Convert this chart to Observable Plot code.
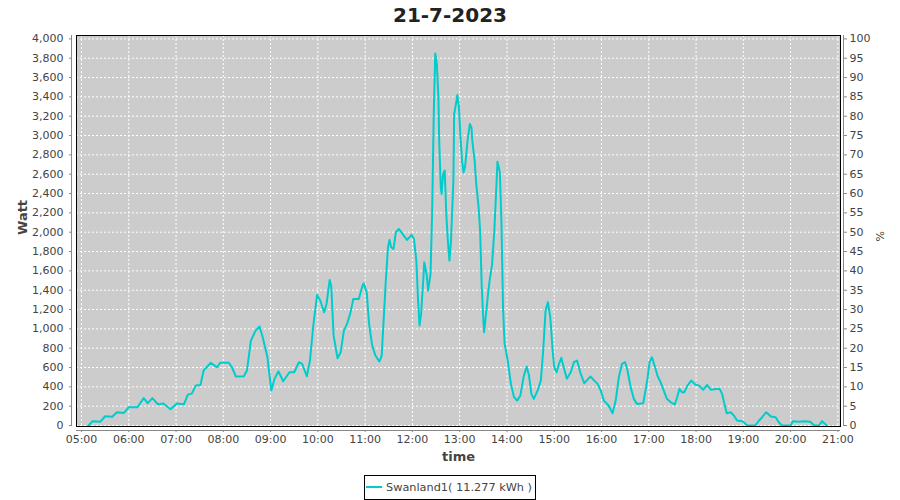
<!DOCTYPE html>
<html><head><meta charset="utf-8">
<script src="https://cdn.jsdelivr.net/npm/d3@7"></script>
<script src="https://cdn.jsdelivr.net/npm/@observablehq/plot@0.6"></script>
<style>
body{margin:0;background:#fff;font-family:"DejaVu Sans",sans-serif;}
#wrap{width:900px;height:500px;position:relative;overflow:hidden;background:#fff}
#title{height:30px;line-height:30px;text-align:center;font-weight:bold;font-size:20px;color:#222;}
#chart svg{display:block}
#legendRow{text-align:center;height:25px}
#legend{display:inline-block;border:1px solid #000;height:23px;line-height:23px;padding:0 3px 0 1px;font-size:11.3px;color:#444;white-space:nowrap}
#legend .sw{display:inline-block;width:16px;height:2px;background:#00CCCC;vertical-align:middle;margin-right:4px;position:relative;top:-1px}
</style></head><body>
<div id="wrap">
<div id="title">21-7-2023</div>
<div id="chart"></div>
<div id="legendRow"><div id="legend"><span class="sw"></span>Swanland1( 11.277 kWh )</div></div>
</div>
<script>
const times = ["05:09","05:14","05:24","05:30","05:39","05:45","05:54",
"06:00","06:11","06:19","06:24","06:30","06:37","06:44","06:53",
"07:01","07:10","07:15","07:20","07:25","07:31","07:35","07:44","07:52","07:56",
"08:07","08:11","08:16","08:26","08:30","08:35","08:41","08:46","08:50","08:56",
"09:01","09:05","09:10","09:16","09:24","09:30","09:36","09:40","09:46","09:50","09:54","09:59",
"10:03","10:08","10:11","10:15","10:17","10:20","10:25","10:29","10:33","10:37","10:41","10:45","10:52","10:56","10:58",
"11:02","11:05","11:09","11:13","11:18","11:21","11:23","11:26","11:29","11:31","11:33","11:36","11:39","11:43","11:53","11:59",
"12:02","12:05","12:07","12:09","12:11","12:14","12:15","12:18","12:20","12:23","12:25","12:26","12:27","12:29","12:31","12:33","12:34","12:36","12:37","12:39","12:41","12:43","12:45","12:47","12:49","12:52","12:53","12:56","12:57","12:59",
"13:01","13:03","13:05","13:07","13:10","13:12","13:13","13:15","13:16","13:19","13:21","13:24","13:26","13:28","13:30","13:31","13:34","13:36","13:38","13:41","13:44","13:47","13:48","13:51","13:53","13:55","13:57",
"14:01","14:05","14:09","14:13","14:17","14:21","14:25","14:28","14:31","14:34","14:39","14:43","14:46","14:49","14:52","14:55","14:58",
"15:00","15:03","15:06","15:09","15:12","15:16","15:21","15:25","15:29","15:33","15:38","15:42","15:46","15:50","15:55","15:59",
"16:03","16:09","16:14","16:18","16:22","16:26","16:30","16:33","16:37","16:41","16:45","16:53","16:58",
"17:01","17:04","17:08","17:11","17:15","17:19","17:23","17:28","17:33","17:36","17:39","17:42","17:45","17:49","17:54","17:59",
"18:04","18:09","18:14","18:19","18:25","18:30","18:33","18:36","18:39","18:44","18:48","18:52","18:59",
"19:05","19:15","19:20","19:24","19:29","19:35","19:41","19:45","19:49",
"20:00","20:03","20:10","20:18","20:25","20:30","20:36","20:40","20:43","20:46"];
const watts = [0,45,40,96,90,138,130,
190,190,283,231,283,220,228,169,
228,220,320,330,413,420,569,648,603,650,
650,603,507,510,569,879,982,1024,913,706,
362,483,561,458,551,551,655,638,510,672,1017,1351,
1293,1172,1258,1506,1440,930,696,758,982,1051,1155,1310,1310,1430,1471,
1378,1051,827,724,662,720,1017,1465,1844,1920,1844,1827,1999,2033,1920,1972,
1930,1706,1327,1034,1155,1534,1689,1568,1396,1568,2189,2671,3188,3850,3740,3395,2947,2464,2396,2602,2637,2189,1913,1706,1913,2533,3223,3361,3419,3300,
2981,2740,2619,2688,2947,3068,3120,3080,2947,2740,2499,2258,1999,1430,1100,965,1200,1362,1500,1660,2016,2550,2730,2620,2100,1223,845,
672,431,293,258,310,499,610,517,328,276,362,465,776,1189,1275,1120,776,
603,551,638,700,603,483,551,655,672,551,438,472,507,472,431,362,
258,207,127,258,499,638,655,569,396,276,224,231,465,
655,706,603,517,448,362,276,241,217,293,379,344,344,413,465,424,
413,369,420,369,379,379,328,224,127,138,103,52,45,
0,0,52,86,138,93,86,34,0,
0,45,40,45,40,0,0,45,20,0];

const hourTicks = ["05:00","06:00","07:00","08:00","09:00","10:00","11:00","12:00","13:00","14:00","15:00","16:00","17:00","18:00","19:00","20:00","21:00"];
const wattTicks = [0,200,400,600,800,1000,1200,1400,1600,1800,2000,2200,2400,2600,2800,3000,3200,3400,3600,3800,4000];
const pctTicks = [0,5,10,15,20,25,30,35,40,45,50,55,60,65,70,75,80,85,90,95,100];
const wattsAt100Pct = 4000;
const xDomainText = ["04:53:40","21:03:20"];
const yDomain = [-10, 4035];

const parse = s => { const p = s.split(":").map(Number); return new Date(Date.UTC(2023,6,21,p[0],p[1],p[2]||0)); };
const data = times.map((t,i) => ({time: parse(t), watt: watts[i]}));
const hourDates = hourTicks.map(parse);
const xDomain = xDomainText.map(parse);
const pctPos = pctTicks.map(p => p * wattsAt100Pct / 100);

const chart = Plot.plot({
  width: 900, height: 445,
  marginLeft: 76, marginRight: 60, marginTop: 5, marginBottom: 49,
  style: {fontFamily: "DejaVu Sans", fontSize: "11px", color: "#444", background: "white"},
  x: {type: "utc", domain: xDomain},
  y: {domain: yDomain},
  marks: [
    Plot.frame({fill: "#CCCCCC"}),
    Plot.ruleY(wattTicks, {stroke: "white", strokeDasharray: "2,2"}),
    Plot.ruleX(hourDates, {stroke: "white", strokeDasharray: "2,2"}),
    Plot.line(data, {x: "time", y: "watt", stroke: "#00CCCC", strokeWidth: 2}),
    Plot.frame({stroke: "black"}),
    Plot.ruleY([yDomain[0]], {dy: 4, stroke: "#888"}),
    Plot.ruleX([xDomain[0]], {dx: -5, stroke: "#888"}),
    Plot.ruleX([xDomain[1]], {dx: 3, stroke: "#888"}),
    Plot.axisX({ticks: hourDates, tickFormat: d3.utcFormat("%H:%M"), tickSize: 2, tickPadding: 3, dy: 4, stroke: "#888", fill: "#444", label: null}),
    Plot.axisY({anchor: "left", ticks: wattTicks, tickFormat: d3.format(","), tickSize: 2, tickPadding: 6, dx: -5, stroke: "#888", fill: "#444", label: null}),
    Plot.axisY({anchor: "right", ticks: pctPos, tickFormat: d => String(d * 100 / wattsAt100Pct), tickSize: 3, tickPadding: 3, dx: 3, stroke: "#888", fill: "#444", label: null}),
    Plot.text(["Watt"], {text: d => d, frameAnchor: "left", dx: -54, dy: 4, rotate: -90, fontWeight: "bold", fontSize: 13, fill: "#444"}),
    Plot.text(["time"], {text: d => d, frameAnchor: "bottom", dy: 34, fontWeight: "bold", fontSize: 13, fill: "#444"}),
    Plot.text(["%"], {text: d => d, frameAnchor: "right", dx: 40, rotate: -90, fontSize: 11, fill: "#444"})
  ]
});
document.getElementById("chart").appendChild(chart);
</script>
</body></html>
